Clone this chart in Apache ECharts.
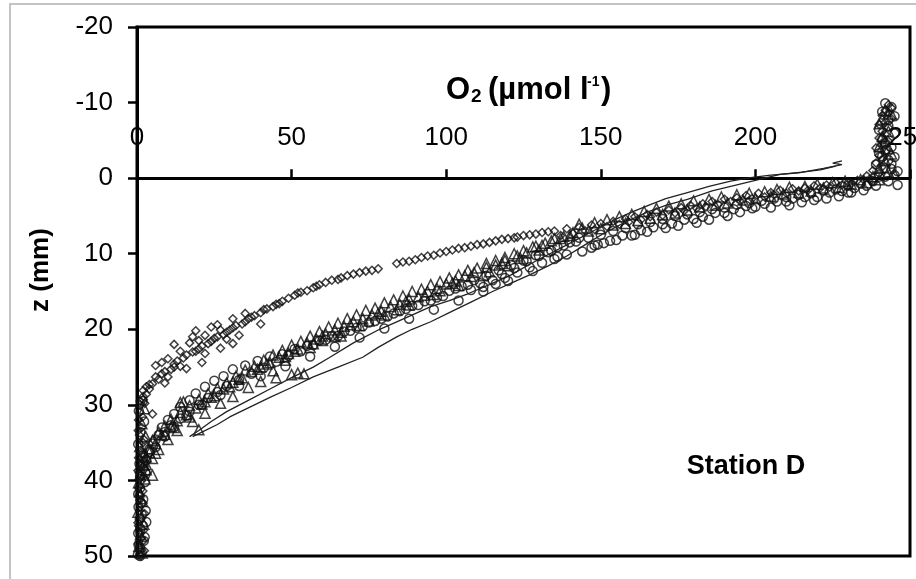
<!DOCTYPE html>
<html>
<head>
<meta charset="utf-8">
<script src="https://cdn.jsdelivr.net/npm/echarts@6/dist/echarts.min.js"></script>
<style>
  html, body { margin: 0; padding: 0; background: #fff; }
  #chart { width: 916px; height: 579px; }
</style>
</head>
<body>
<div id="chart"></div>
<script>
// Axis ranges (O2 in µmol/l, depth z in mm, positive downward)
const o2Range = { min: 0, max: 250, step: 50 };
const zRange = { min: -20, max: 50, step: 10 };

// Profile 1 – diamonds
const diamondProfile = [
  [243,-9.7],[244,-9.3],[242,-9.0],[243,-8.6],[241,-8.3],[244,-7.9],[242,-7.4],[240,-7.1],[243,-6.7],[241,-6.2],
  [242,-5.8],[240,-5.3],[243,-4.9],[241,-4.4],[239,-4.0],[242,-3.5],[240,-3.0],[241,-2.5],[239,-2.0],[241,-1.5],
  [238,-1.0],[240,-0.6],[236,-0.3],[237,0.1],
  [233,0.3],[230,0.5],[226,0.6],[223,0.9],[219,1.0],[216,1.3],[212,1.4],[208,1.6],[205,1.9],[201,2.0],
  [197,2.3],[194,2.6],[190,2.8],[186,3.1],[183,3.4],[179,3.6],[176,3.9],[172,4.2],[168,4.5],[165,4.8],
  [161,5.1],[158,5.4],[154,5.7],[150,6.0],[147,6.2],[143,6.5],[139,6.7],[135,7.0],[131,7.2],[127,7.5],
  [123,7.8],[120,8.0],[116,8.3],[112,8.7],[108,9.0],[104,9.3],[100,9.7],[96,10.2],[92,10.5],[88,11.0],
  [84,11.3],[76,12.2],[72,12.5],[68,12.9],[65,13.4],[61,13.8],[58,14.3],[55,14.9],[52,15.2],[49,15.9],
  [46,16.6],[44,17.0],[41,17.4],[38,18.2],[36,18.6],[34,19.3],[31,19.8],[29,20.4],[27,20.1],[25,21.2],
  [23,21.9],[22,20.8],[20,22.6],[18,23.0],[17,21.8],[15,23.8],[14,22.9],[12,24.6],[11,25.3],[10,23.9],
  [8,25.9],[7,26.6],[6,24.8],[5,27.2],[4,27.9],[3,28.6],[2,29.3],[1,30.0],[2,28.1],[9,27.1],
  [16,25.2],[21,24.4],[27,22.5],[33,20.8],[40,19.3],[31,18.6],[19,20.2],
  [5,31.2],[12,22.0],[18,21.0],[24,19.7],[31,21.9],
  [133,7.1],[129,7.4],[125,7.6],[122,7.9],[118,8.1],[114,8.5],[110,8.8],[106,9.2],[102,9.5],[98,9.9],
  [94,10.3],[90,10.8],[86,11.1],[78,12.0],[74,12.3],[70,12.7],[66,13.2],[63,13.5],[59,14.1],[57,14.5],
  [53,15.1],[51,15.5],[47,16.3],[45,16.7],[42,17.3],[40,17.8],[37,18.4],[35,19.0],[32,19.5],[30,20.1],
  [28,20.7],[26,21.0],[24,21.6],[21,22.2],[19,22.9],[16,23.4],[13,24.2],[12,25.0],[9,25.6],[6,26.3],
  [4,27.3],[3,27.6],[2,28.9],[1,29.5],
  [26,19.4],[20,21.5],[14,24.9],[10,26.3],[22,23.2],[29,21.3],[35,17.9],[8,24.4],
  [238,0.4],[235,0.2],[231,0.7],[228,0.9],[224,1.2],[221,1.3],[217,1.6],[214,1.7],[210,2.0],[206,2.2],
  [203,2.5],[199,2.7],[195,3.0],[192,3.1],[188,3.5],[184,3.8],[181,4.0],[177,4.3],[174,4.6],[170,4.9],
  [166,5.1],[163,5.5],[159,5.8],[156,6.1],[152,6.4],[148,6.8],[145,7.0],[141,7.3],[137,7.6],
  [1,31.0],[0.5,32.0],[1.5,33.0],[0.8,34.0],[2,35.0],[1,36.0],[0.5,37.0],[1.2,38.0],[0.7,39.0],[1.5,40.0],
  [0.5,41.0],[1,42.0],[2,43.0],[0.8,44.0],[1.5,45.0],[0.5,46.0],[1,47.0],[2,48.0],[0.8,49.0],[1.2,50.0],
  [2.5,29.8],[1.8,31.6],[0.4,33.4],[2.3,34.6],[1.7,36.5],[2.6,37.6],[0.3,38.7],[2.2,39.6],[1.9,41.4],[0.9,42.6],
  [2.5,44.4],[0.3,45.6],[2.1,46.6],[1.4,47.6],[0.4,48.4],[2.4,49.3]
];

// Profile 2 – triangles
const triangleProfile = [
  [242,-9.0],[240,-7.2],[241,-5.5],[243,-3.9],
  [244,-8.5],[241,-7.8],[243,-6.2],[242,-4.9],[240,-4.2],[244,-3.2],[242,-2.3],[240,-1.3],[243,-0.8],
  [245,-0.5],[240,0.2],[236,0.6],[231,0.8],[227,1.2],[222,1.3],[218,1.7],[214,1.9],[209,2.1],[205,2.4],
  [200,2.7],[196,2.9],[191,3.3],[187,3.6],[182,3.8],[178,4.2],[174,4.6],[170,4.8],[166,5.3],[162,5.6],
  [158,6.0],[154,6.2],[150,6.7],[146,7.0],[143,6.1],[140,7.6],[137,8.0],[134,8.3],[131,8.9],[128,9.1],
  [125,9.6],[122,10.0],[119,10.5],[116,10.9],[113,11.3],[110,11.9],[107,12.2],[104,12.8],[101,13.2],[98,13.7],
  [95,14.1],[92,14.7],[89,15.0],[86,15.6],[83,16.1],[80,16.5],[77,17.2],[74,17.5],[71,18.1],[68,18.6],
  [65,19.2],[62,19.7],[59,20.3],[56,20.9],[53,21.6],[50,22.1],[47,22.8],[44,23.4],[41,24.1],[38,24.9],
  [35,25.4],[32,26.2],[29,27.1],[26,27.8],[23,28.5],[20,29.3],[17,30.1],[14,29.7],[14,31.0],[11,31.9],
  [9,32.8],[7,33.6],[5,34.7],[4,35.8],[3,36.9],[2,38.0],[1,39.2],[0.5,40.3],
  [120,11.6],[112,12.9],[104,14.2],[96,15.4],[88,16.8],[80,18.1],[72,19.5],[64,21.0],[56,22.4],[52,25.8],
  [54,25.9],[48,24.1],[50,26.0],[45,26.4],[40,26.9],[36,27.7],[31,28.9],[27,29.8],[22,31.1],[18,32.2],
  [13,33.4],[10,34.6],[7,35.9],[5,37.1],[3,38.6],[15,29.6],[60,21.5],[66,20.9],[44,25.5],[20,33.3],[5,39.3],
  [238,-0.2],[234,0.2],[229,0.4],[225,0.6],[220,0.8],[216,1.1],[211,1.2],[207,1.5],[203,1.8],[198,2.0],
  [194,2.2],[189,2.5],[185,2.8],[180,3.0],[176,3.4],[172,3.7],[168,4.0],[164,4.4],[160,4.8],[156,5.1],
  [152,5.5],[148,5.9],
  [144,6.6],[141,7.2],[138,7.7],[135,8.0],[132,8.6],[129,9.0],[126,9.9],[123,10.3],[119,10.9],[116,11.5],
  [113,11.8],[109,12.5],[106,12.9],[103,13.6],[100,14.0],[97,14.6],[94,15.0],[91,15.7],[88,16.0],[85,16.7],
  [82,17.0],[79,17.6],[76,18.1],[73,18.6],[70,19.0],[67,19.6],[64,20.1],[61,20.6],[58,21.3],[55,21.8],
  [52,22.6],[49,23.2],[46,23.7],[43,24.4],[40,25.0],[37,25.6],[34,26.4],[31,27.0],[28,27.9],[25,28.8],
  [22,29.6],[19,30.4],[16,31.3],[13,32.1],[11,32.9],[8,34.0],[6,35.1],[4,36.3],[2,37.5],
  [130,9.5],[124,10.6],[118,11.3],[114,12.4],[108,13.0],[102,13.9],[98,14.9],[93,15.5],[87,16.3],[84,17.4],
  [78,17.9],[75,18.9],[69,19.4],[66,20.4],[60,20.9],[57,21.9],[51,22.9],[48,23.6],[42,24.6],[39,25.3],
  [33,26.6],[30,27.6],[24,29.0],[21,29.9],[17,31.6],[12,33.0],[9,33.9],[6,36.4],[3,37.9],
  [0.8,41.5],[1.8,42.8],[0.3,44.2],[2.2,45.8],[1.1,47.2],[0.6,48.7],[1.7,49.6],[2.4,30.5],[1.6,32.5],[2.8,34.2],
  [0.9,35.5],[2.1,36.8],[1.4,38.6],[2.6,39.8]
];

// Profile 3 – circles
const circleProfile = [
  [241,-8.8],[243,-7.7],[240,-6.4],[242,-4.6],[240,-3.3],[243,-2.4],[239,-1.8],
  [244,-9.4],[242,-9.9],[245,-8.2],[243,-6.9],[245,-5.9],[241,-5.1],[244,-4.1],[242,-3.7],[245,-2.8],
  [241,-2.9],[244,-1.9],[242,-1.3],[245,-0.4],[240,-0.2],[246,0.9],[243,0.4],
  [246,-0.9],[244,-1.2],[242,-0.2],[238,0.4],[234,0.7],[230,1.0],[226,1.5],[222,1.6],[218,2.0],[214,2.2],
  [210,2.5],[206,2.7],[202,3.0],[198,3.3],[194,3.5],[190,3.9],[186,4.1],[182,4.5],[178,4.8],[174,5.0],
  [170,5.4],[166,5.8],[162,6.1],[158,6.6],[154,7.0],[150,7.5],[146,7.9],[142,8.4],[138,8.9],[134,9.6],
  [130,10.3],[126,11.0],[122,11.9],[118,12.7],[115,13.5],[111,13.9],[107,14.1],[103,14.6],[99,15.6],[95,16.2],
  [91,16.8],[87,17.3],[83,17.9],[79,18.6],[75,19.1],[71,19.8],[67,20.3],[63,20.9],[59,21.5],[55,22.2],
  [51,22.6],[47,23.3],[43,23.6],[39,24.2],[35,24.8],[31,25.3],[28,26.2],[25,26.8],[22,27.6],[19,28.5],
  [17,29.4],[14,30.3],[12,31.2],[10,32.0],[8,33.0],[7,34.0],[5,35.1],[4,36.2],[3,37.3],[2,38.4],[1,39.5],
  [230,1.9],[220,2.5],[210,3.1],[200,3.8],[190,4.6],[180,5.4],[170,6.1],
  [160,7.6],[148,8.9],[136,10.4],[128,12.3],[120,13.6],[112,15.0],[104,16.2],[96,17.4],[88,18.6],[80,19.9],
  [72,21.1],[64,22.3],[56,23.6],[48,24.9],[40,26.2],[33,27.5],[27,28.7],[21,30.0],[16,31.4],[12,32.9],
  [9,34.2],[6,35.6],
  [236,1.0],[232,1.3],[228,1.7],[224,1.9],[216,2.5],[212,2.7],[207,3.1],[203,3.4],[197,3.7],[193,4.1],
  [187,4.6],[183,5.1],[177,5.5],[173,6.0],[167,6.5],[163,6.9],[157,7.6],[153,8.3],[149,8.8],
  [143,7.9],[140,8.5],[136,9.1],[133,9.8],[129,10.2],[125,10.9],[121,11.5],[117,12.2],[113,12.9],[109,13.5],
  [105,14.3],[101,14.9],[97,15.8],[93,16.3],[89,16.9],[85,17.6],[81,18.3],[77,18.9],[73,19.6],[69,20.2],
  [65,20.9],[61,21.4],[57,22.1],[53,22.9],[49,23.5],[45,24.3],[41,25.1],[37,25.9],[33,26.7],[29,27.5],
  [26,28.3],[23,29.1],[20,30.0],[17,30.9],[14,31.8],[11,32.7],[9,33.6],[6,34.6],[4,35.9],[2,37.0],
  [239,1.0],[235,1.6],[231,1.9],[227,2.4],[223,2.7],[219,2.9],[215,3.2],[211,3.6],[205,3.9],[199,4.0],
  [195,4.5],[191,5.0],[185,5.5],[181,5.9],[175,6.3],[171,6.6],[165,7.1],[161,7.5],[155,8.2],[151,8.6],
  [147,9.2],[144,9.7],[139,10.1],[135,10.7],[131,11.2],[127,11.8],[123,12.5],[119,13.2],[116,14.0],[112,14.4],
  [108,14.8],
  [1,41.0],[2,42.5],[0.5,43.5],[1.5,44.5],[3,45.5],[1,46.5],[2.5,47.5],[0.5,48.5],[1.5,49.5],[1,50.0],
  [2.6,40.2],[0.4,41.8],[1.2,43.0],[2.8,44.0],[0.9,45.1],[1.9,46.0],[0.4,47.0],[2.2,48.0],[1.0,49.0],[0.3,49.8],
  [1.8,29.5],[0.6,30.8],[2.3,32.2],[1.1,33.6],[0.4,35.2],[1.9,36.4],[0.8,37.8],[2.7,38.9]
];

// Two continuous profiles drawn as thin lines
const lineProfileA = [
  [228,-2.3],[225,-2.0],[228,-1.8],[222,-1.3],[214,-0.7],[205,-0.4],[199,-0.1],[192,0.4],[185,1.1],[178,1.9],
  [171,2.7],[166,3.5],[160,4.5],[154,5.6],[148,6.9],[141,8.4],[134,9.9],[127,11.4],[121,12.8],[114,14.1],
  [107,15.3],[101,16.2],[95,17.0],[88,18.3],[78.5,20.0],[70,21.8],[62,23.8],[57,25.0],[50,26.4],[43,27.9],
  [36,29.4],[29,30.9],[24,32.2],[20,33.4],[17,34.2]
];
const lineProfileB = [
  [226,-1.6],[221,-1.1],[215,-0.8],[208,-0.5],[201,0.2],[193,1.0],[186,1.7],[178,2.8],[171,3.6],[165,4.5],
  [158,5.8],[151,7.3],[145,8.8],[139,10.3],[133,11.6],[127,12.8],[121,13.9],[115,15.0],[108,16.4],[101,17.8],
  [95,19.0],[89,20.0],[84,21.0],[78,22.4],[73,23.7],[65,25.0],[57,26.3],[50,27.7],[43,29.0],[36,30.4],
  [30,31.6],[26,32.6],[21,33.6],[18,34.2]
];

const FONT = '"Liberation Sans", Arial, sans-serif';
const GRID = { left: 137, right: 6, top: 27, bottom: 23 };
const plotHeight = 579 - GRID.top - GRID.bottom;
// distance from the top edge of the plot down to the z = 0 level
const zeroOffset = plotHeight * (0 - zRange.min) / (zRange.max - zRange.min);

const chart = echarts.init(document.getElementById('chart'), null, { renderer: 'canvas' });

function markerSeries(data, symbol, size) {
  return {
    type: 'scatter',
    data: data,
    symbol: symbol,
    symbolSize: size,
    itemStyle: { color: 'rgba(255,255,255,0)', borderColor: '#111', borderWidth: 1.5 },
    emphasis: { disabled: true },
    z: 3
  };
}
function lineSeries(data) {
  return {
    type: 'line',
    data: data,
    showSymbol: false,
    lineStyle: { color: '#222', width: 1.3 },
    emphasis: { disabled: true },
    z: 4
  };
}

function txt(text, x, y, size, align, extra) {
  return Object.assign({
    type: 'text', x: x, y: y,
    style: {
      text: text, fill: '#000',
      font: 'bold ' + size + 'px ' + FONT,
      align: align, verticalAlign: 'middle',
      textAlign: align, textVerticalAlign: 'middle'
    },
    z: 10
  }, extra || {});
}

chart.setOption({
  animation: false,
  backgroundColor: '#fff',
  grid: Object.assign({ show: true, borderColor: '#000', borderWidth: 3,
                        containLabel: false, outerBoundsMode: 'none' }, GRID),
  xAxis: {
    type: 'value', position: 'top',
    offset: -zeroOffset,
    min: o2Range.min, max: o2Range.max, interval: o2Range.step,
    axisLine: { show: true, onZero: false, lineStyle: { color: '#000', width: 3 } },
    axisTick: { show: true, inside: false, length: 9, lineStyle: { color: '#000', width: 2.5 } },
    axisLabel: { fontSize: 26, fontFamily: FONT, color: '#000', margin: 27, hideOverlap: false },
    splitLine: { show: false }
  },
  yAxis: {
    type: 'value', inverse: true,
    min: zRange.min, max: zRange.max, interval: zRange.step,
    axisLine: { show: true, onZero: false, lineStyle: { color: '#000', width: 3 } },
    axisTick: { show: true, inside: false, length: 9, lineStyle: { color: '#000', width: 2.5 } },
    axisLabel: { fontSize: 26, fontFamily: FONT, color: '#000', margin: 24 },
    splitLine: { show: false }
  },
  series: [
    lineSeries(lineProfileA),
    lineSeries(lineProfileB),
    markerSeries(circleProfile, 'circle', 9),
    markerSeries(triangleProfile, 'triangle', 10),
    markerSeries(diamondProfile, 'diamond', 8)
  ],
  graphic: [
    // light page frame
    { type: 'polyline', shape: { points: [[10, 579], [10, 4], [916, 4]] },
      style: { stroke: '#c4c4c4', lineWidth: 2, fill: null }, z: 1 },
    // O2 (µmol l-1) axis title
    txt('O', 446, 90, 31, 'left'),
    txt('2', 471, 97, 19, 'left'),
    txt('(\u00b5mol l', 488, 90, 31, 'left'),
    txt('-1', 587, 82, 14, 'left'),
    txt(')', 601, 90, 31, 'left'),
    // depth axis title
    txt('z (mm)', 41, 270, 26, 'center', { rotation: Math.PI / 2 }),
    // station label
    txt('Station D', 746, 467, 27, 'center')
  ]
});
</script>
</body>
</html>
